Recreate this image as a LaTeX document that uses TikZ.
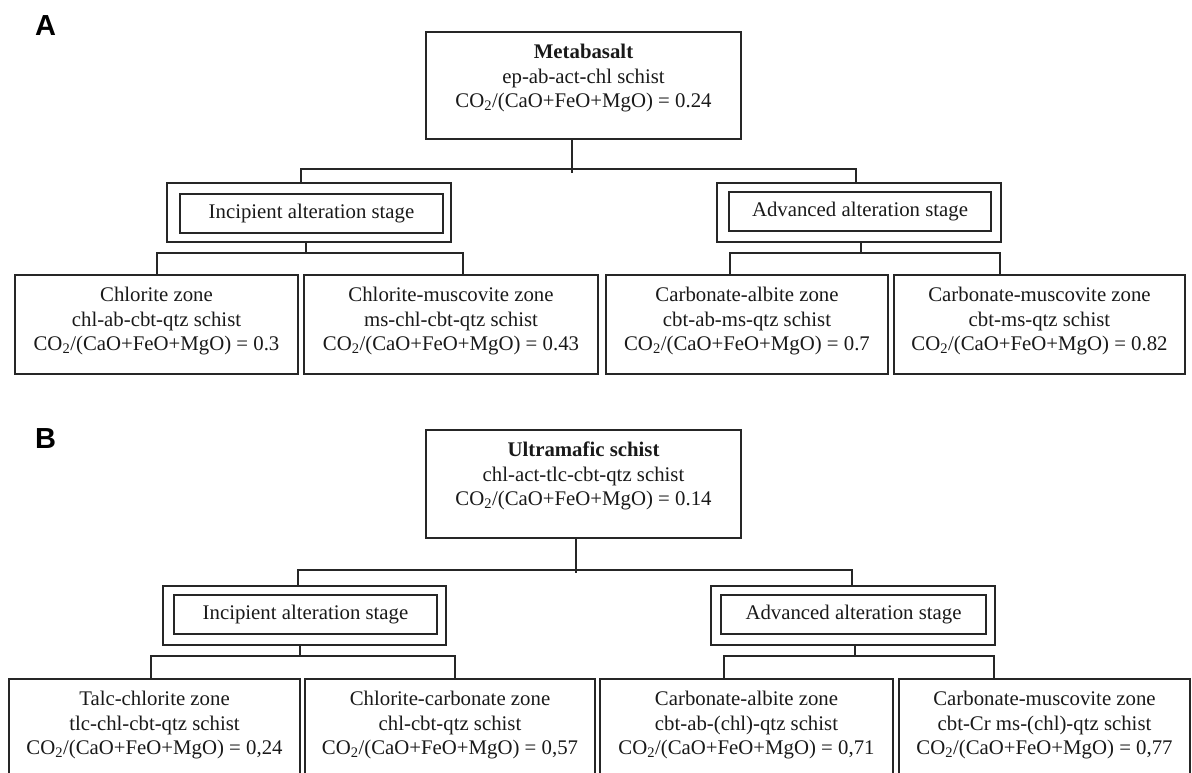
\documentclass[tikz,border=0pt]{standalone}
\usepackage{fontspec}
\setmainfont{Liberation Serif}
\newfontfamily\labfont{Liberation Sans}
\tikzset{
  ln/.style={line width=1.6pt, draw=black!85},
  bxs/.style={ln, rectangle, inner sep=0pt},
  txt/.style={font=\fontsize{20.8}{24.5}\selectfont, align=center, inner sep=0pt, text=black!90},
  panel/.style={font=\fontsize{29}{30}\selectfont\labfont\bfseries, inner sep=0pt, anchor=north west}
}
\newcommand\bx[5]{\node[bxs, minimum width={#3-#2}, minimum height={#5-#4}] (#1) at ({(#2+#3)/2},{(#4+#5)/2}) {};}
\newcommand\zn[6]{\bx{#1}{#2}{#3}{#4}{#5}\node[txt] (#1t) at ([yshift=-47pt]#1.north) {#6};}
\newcommand\stg[9]{\bx{#1o}{#2}{#3}{#4}{#5}\bx{#1i}{#6}{#7}{#8}{#9}}
\newcommand\ratio{CO\textsubscript{2}/(CaO+FeO+MgO) = }
\begin{document}
\begin{tikzpicture}[x=1pt,y=-1pt]
\useasboundingbox (0,0) rectangle (1192,773);
\clip (0,0) rectangle (1192,773);

% ---------------- Panel A ----------------
\node[panel] (labA) at (35,15) {A};
\zn{topA}{426}{741}{32}{139}{\textbf{Metabasalt}\\ep-ab-act-chl schist\\\ratio0.24}

\stg{incA}{167}{451}{183}{242}{180}{443}{194}{233}
\node[txt] (incAt) at (incAi.center) {Incipient alteration stage};
\stg{advA}{717}{1001}{183}{242}{729}{991}{192}{231}
\node[txt] (advAt) at (advAi.center) {Advanced alteration stage};

\zn{zA1}{15}{298}{275}{374}{Chlorite zone\\chl-ab-cbt-qtz schist\\\ratio0.3}
\zn{zA2}{304}{598}{275}{374}{Chlorite-muscovite zone\\ms-chl-cbt-qtz schist\\\ratio0.43}
\zn{zA3}{606}{888}{275}{374}{Carbonate-albite zone\\cbt-ab-ms-qtz schist\\\ratio0.7}
\zn{zA4}{894}{1185}{275}{374}{Carbonate-muscovite zone\\cbt-ms-qtz schist\\\ratio0.82}

\coordinate (vA) at (572,173);
\coordinate (barAl) at (301,169);
\coordinate (barAr) at (856,169);
\draw[ln] (topA.south -| vA) -- (vA);
\draw[ln] (incAo.north -| barAl) -- (barAl) -- (barAr) -- (advAo.north -| barAr);

\coordinate (sAi) at (306,253);
\coordinate (sAil) at (157,253);
\coordinate (sAir) at (463,253);
\draw[ln] (incAo.south -| sAi) -- (sAi);
\draw[ln] (zA1.north -| sAil) -- (sAil) -- (sAir) -- (zA2.north -| sAir);

\coordinate (sAa) at (861,253);
\coordinate (sAal) at (730,253);
\coordinate (sAar) at (1000,253);
\draw[ln] (advAo.south -| sAa) -- (sAa);
\draw[ln] (zA3.north -| sAal) -- (sAal) -- (sAar) -- (zA4.north -| sAar);

% ---------------- Panel B ----------------
\node[panel] (labB) at (35,428) {B};
\zn{topB}{426}{741}{430}{538}{\textbf{Ultramafic schist}\\chl-act-tlc-cbt-qtz schist\\\ratio0.14}

\stg{incB}{163}{446}{586}{645}{174}{437}{595}{634}
\node[txt] (incBt) at (incBi.center) {Incipient alteration stage};
\stg{advB}{711}{995}{586}{645}{721}{986}{595}{634}
\node[txt] (advBt) at (advBi.center) {Advanced alteration stage};

\zn{zB1}{9}{300}{679}{778}{Talc-chlorite zone\\tlc-chl-cbt-qtz schist\\\ratio0,24}
\zn{zB2}{305}{595}{679}{778}{Chlorite-carbonate zone\\chl-cbt-qtz schist\\\ratio0,57}
\zn{zB3}{600}{893}{679}{778}{Carbonate-albite zone\\cbt-ab-(chl)-qtz schist\\\ratio0,71}
\zn{zB4}{899}{1190}{679}{778}{Carbonate-muscovite zone\\cbt-Cr ms-(chl)-qtz schist\\\ratio0,77}

\coordinate (vB) at (576,573);
\coordinate (barBl) at (298,570);
\coordinate (barBr) at (852,570);
\draw[ln] (topB.south -| vB) -- (vB);
\draw[ln] (incBo.north -| barBl) -- (barBl) -- (barBr) -- (advBo.north -| barBr);

\coordinate (sBi) at (300,656);
\coordinate (sBil) at (151,656);
\coordinate (sBir) at (455,656);
\draw[ln] (incBo.south -| sBi) -- (sBi);
\draw[ln] (zB1.north -| sBil) -- (sBil) -- (sBir) -- (zB2.north -| sBir);

\coordinate (sBa) at (855,656);
\coordinate (sBal) at (724,656);
\coordinate (sBar) at (994,656);
\draw[ln] (advBo.south -| sBa) -- (sBa);
\draw[ln] (zB3.north -| sBal) -- (sBal) -- (sBar) -- (zB4.north -| sBar);
\end{tikzpicture}
\end{document}
